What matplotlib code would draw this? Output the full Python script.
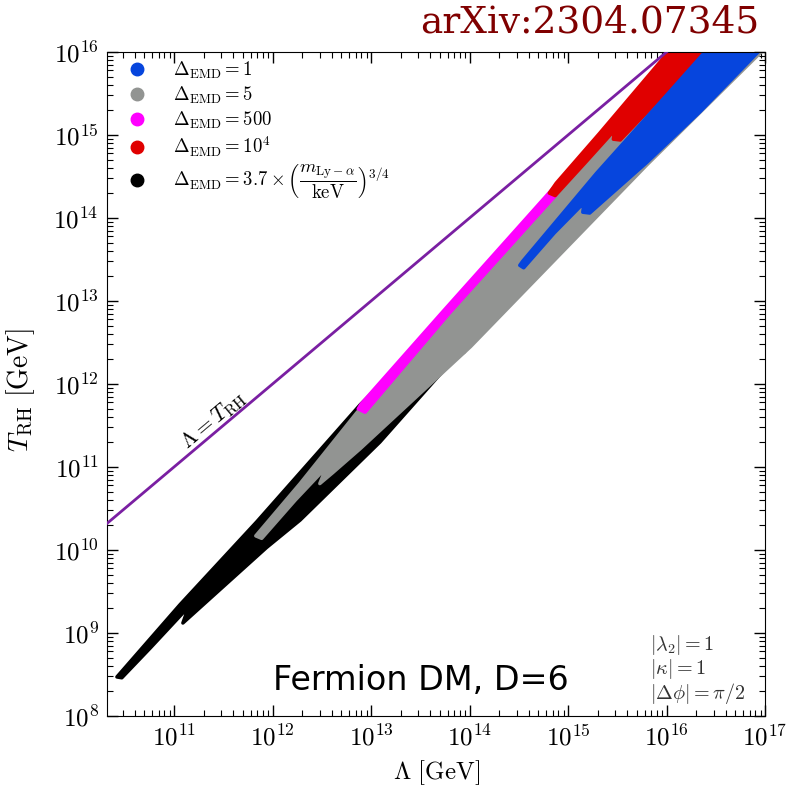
import numpy as np
import matplotlib
matplotlib.use("Agg")
import matplotlib.pyplot as plt
from matplotlib.lines import Line2D
from matplotlib.ticker import LogLocator, NullFormatter

plt.rcParams["mathtext.fontset"] = "cm"
plt.rcParams["font.family"] = ["DejaVu Sans"]

# Region outlines, in log10(Lambda/GeV), log10(T_RH/GeV)
black_logL = [10.42, 11.06, 11.84, 12.89, 13.50, 13.80, 13.95, 13.80, 13.09, 12.28, 11.94, 11.09, 11.12, 11.16, 10.76, 10.47]
black_logT = [8.47, 9.34, 10.34, 11.75, 12.47, 12.83, 12.39, 12.25, 11.30, 10.36, 10.03, 9.12, 9.22, 9.33, 8.82, 8.46]

gray_logL = [11.83, 12.28, 12.86, 13.80, 14.85, 15.53, 16.02, 16.96, 15.80, 14.01, 12.89, 12.61, 12.48, 12.51, 12.58, 12.23, 11.89]
gray_logT = [10.17, 10.80, 11.66, 12.86, 14.30, 15.12, 16.00, 16.00, 14.64, 12.45, 11.22, 10.93, 10.80, 10.89, 11.04, 10.60, 10.14]

magenta_logL = [12.87, 12.90, 13.72, 14.85, 14.88, 13.80, 12.94]
magenta_logT = [11.70, 11.76, 12.86, 14.36, 14.28, 12.86, 11.66]

red_logL = [14.81, 14.88, 15.32, 16.02, 16.39, 16.34, 16.00, 15.53, 15.46, 15.47, 15.52, 15.17, 14.87]
red_logT = [14.30, 14.42, 15.02, 16.00, 16.00, 15.93, 15.52, 14.94, 14.95, 15.02, 15.12, 14.66, 14.27]

blue_logL = [14.51, 14.54, 15.29, 16.00, 16.39, 16.93, 16.34, 15.80, 15.22, 15.15, 15.16, 15.20, 14.86, 14.55]
blue_logT = [13.43, 13.48, 14.54, 15.48, 16.00, 16.00, 15.28, 14.67, 14.06, 14.07, 14.16, 14.23, 13.82, 13.40]

x_tick_pows = [11, 12, 13, 14, 15, 16, 17]
y_tick_pows = [8, 9, 10, 11, 12, 13, 14, 15, 16]

labels = [r"$\Delta_{\rm EMD} = 1$",
          r"$\Delta_{\rm EMD} = 5$",
          r"$\Delta_{\rm EMD} = 500$",
          r"$\Delta_{\rm EMD} = 10^4$",
          r"$\Delta_{\rm EMD} = 3.7\times\left(\dfrac{m_{\rm Ly-\alpha}}{\rm keV}\right)^{3/4}$"]
colors = ["#0645dd", "#929492", "#ff00ff", "#e00000", "#000000"]

fig = plt.figure(figsize=(7.94, 7.86), dpi=100)
ax = fig.add_axes([0.1348, 0.0891, 0.8287, 0.8447])
ax.set_xscale("log")
ax.set_yscale("log")

regions = [(black_logL, black_logT, "#000000"),
           (gray_logL, gray_logT, "#929492"),
           (magenta_logL, magenta_logT, "#ff00ff"),
           (red_logL, red_logT, "#e00000"),
           (blue_logL, blue_logT, "#0645dd")]
for lx, ly, c in regions:
    ax.fill(10**np.array(lx), 10**np.array(ly), color=c, lw=2.5, joinstyle="round", zorder=2)

# Lambda = T_RH line
line = np.array([1e10, 1e17])
ax.plot(line, line, color="#7a1fa2", lw=2, zorder=3)
ax.text(10**11.40, 10**11.56, r"$\Lambda = T_{\rm RH}$", rotation=40, fontsize=16,
        ha="center", va="center")

ax.set_xlabel(r"$\Lambda\ [\mathrm{GeV}]$", fontsize=18, labelpad=6)
ax.set_ylabel(r"$T_{\rm RH}\ [\mathrm{GeV}]$", fontsize=20)
ax.yaxis.set_label_coords(-0.106, 0.491)

ax.set_xticks([10.0**p for p in x_tick_pows])
ax.set_yticks([10.0**p for p in y_tick_pows])
ax.set_xticklabels([r"$10^{%d}$" % p for p in x_tick_pows])
ax.set_yticklabels([r"$10^{%d}$" % p for p in y_tick_pows])
ax.xaxis.set_minor_locator(LogLocator(base=10, subs=np.arange(2, 10), numticks=20))
ax.yaxis.set_minor_locator(LogLocator(base=10, subs=np.arange(2, 10), numticks=20))
ax.xaxis.set_minor_formatter(NullFormatter())
ax.yaxis.set_minor_formatter(NullFormatter())
ax.tick_params(which="both", direction="in", top=True, right=True, labelsize=18)
ax.tick_params(which="major", length=8, width=1, pad=6)
ax.tick_params(which="minor", length=4, width=0.8)
ax.set_xlim(10**10.32, 1e17)
ax.set_ylim(1e8, 1e16)

handles = [Line2D([], [], marker="o", ls="none", color=c, ms=9) for c in colors]
ax.legend(handles, labels, loc="upper left", frameon=False, fontsize=13.5,
          handletextpad=0.9, labelspacing=0.2, borderaxespad=0.0,
          bbox_to_anchor=(0.006, 1.0))

ax.text(0.477, 0.054, "Fermion DM, D=6", transform=ax.transAxes, fontsize=24,
        ha="center", va="center")
ax.text(0.825, 0.015, "$|\\lambda_2| = 1$\n$|\\kappa| = 1$\n$|\\Delta\\phi| = \\pi/2$",
        transform=ax.transAxes, fontsize=14.5, ha="left", va="bottom", linespacing=1.0,
        color="#333333")

fig.text(0.957, 0.971, "arXiv:2304.07345", fontsize=27, family="DejaVu Serif",
         color="#800000", ha="right", va="center")

fig.savefig("out.png", dpi=100)
